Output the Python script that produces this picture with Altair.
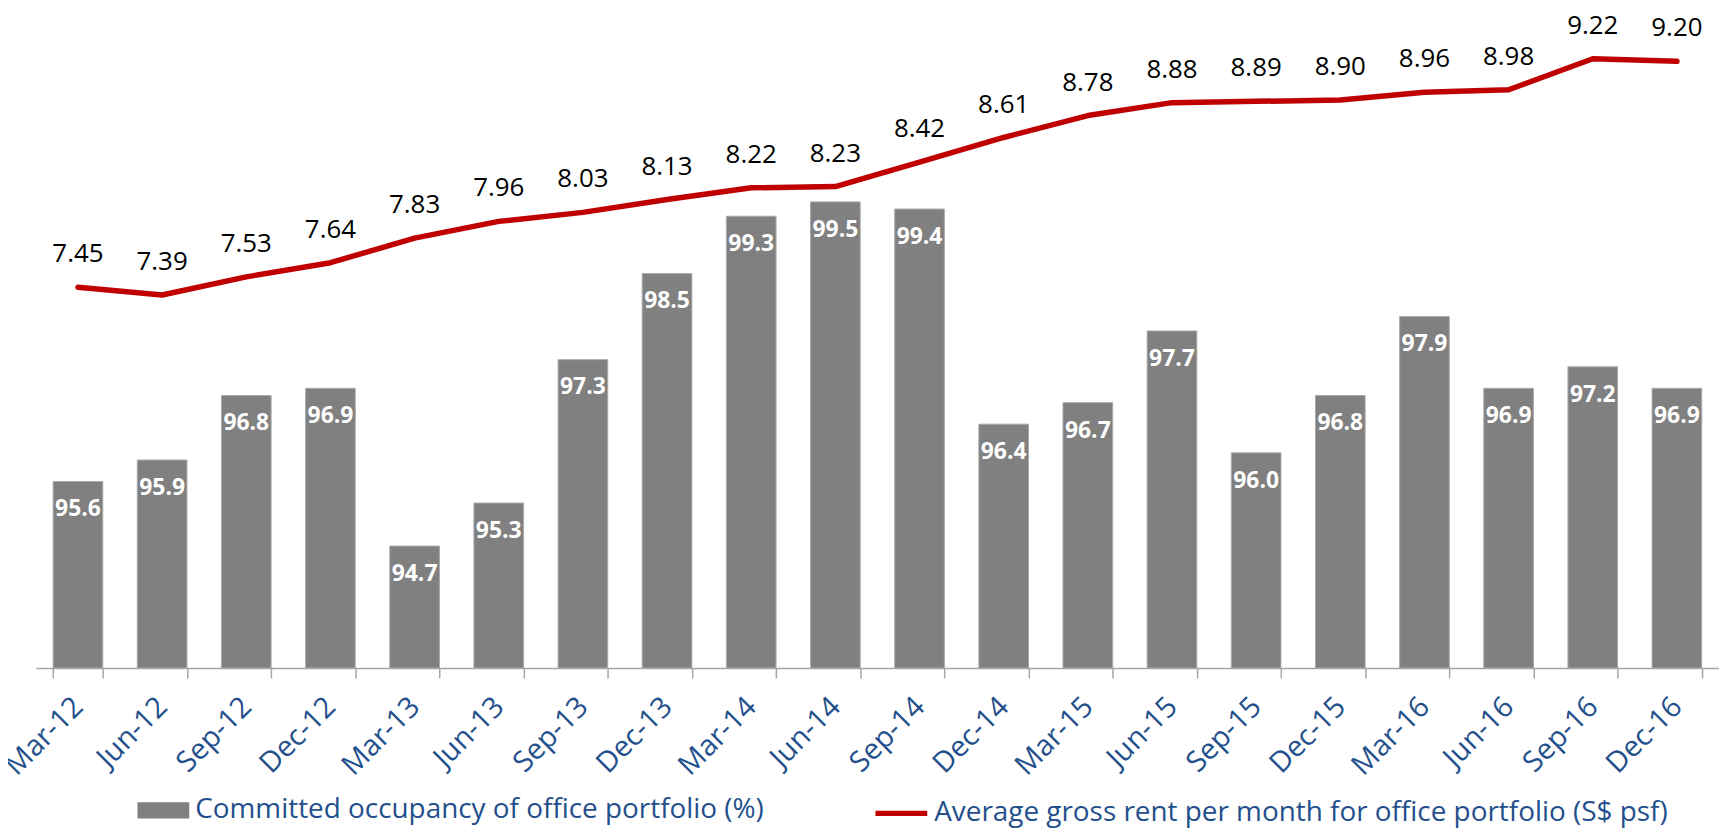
import altair as alt
import pandas as pd

categories = ["Mar-12", "Jun-12", "Sep-12", "Dec-12", "Mar-13", "Jun-13", "Sep-13", "Dec-13",
              "Mar-14", "Jun-14", "Sep-14", "Dec-14", "Mar-15", "Jun-15", "Sep-15", "Dec-15",
              "Mar-16", "Jun-16", "Sep-16", "Dec-16"]
occupancy = [95.6, 95.9, 96.8, 96.9, 94.7, 95.3, 97.3, 98.5, 99.3, 99.5, 99.4, 96.4,
             96.7, 97.7, 96.0, 96.8, 97.9, 96.9, 97.2, 96.9]
rent = [7.45, 7.39, 7.53, 7.64, 7.83, 7.96, 8.03, 8.13, 8.22, 8.23, 8.42, 8.61,
        8.78, 8.88, 8.89, 8.90, 8.96, 8.98, 9.22, 9.20]
bar_series = "Committed occupancy of office portfolio (%)"
line_series = "Average gross rent per month for office portfolio (S$ psf)"
occ_axis_min = 93

df = pd.DataFrame({
    "period": categories,
    "occ": occupancy,
    "rent": rent,
    "bar_s": [bar_series] * len(categories),
    "line_s": [line_series] * len(categories),
})
df["occ_lbl"] = [f"{v:.1f}" for v in occupancy]
df["rent_lbl"] = [f"{v:.2f}" for v in rent]

NAVY = "#23508c"
FONT = "Open Sans"

x_enc = alt.X(
    "period:N", sort=categories,
    scale=alt.Scale(paddingInner=0.41, paddingOuter=0.205),
    axis=alt.Axis(title=None, labelAngle=315, labelAlign="right", labelBaseline="middle",
                  labelFont=FONT, labelFontSize=29, labelColor=NAVY, labelPadding=24,
                  tickBand="extent", tickSize=10, tickColor="#a6a6a6", tickWidth=1.5,
                  domainColor="#a6a6a6", domainWidth=1.5, grid=False, labelLimit=300),
)

occ_scale = alt.Scale(domain=[occ_axis_min, 102], nice=False, zero=False)
rent_scale = alt.Scale(domain=[4.5, 9.5], nice=False, zero=False)

base = alt.Chart(df)

bars = base.mark_bar(stroke="#a8a8a8", strokeWidth=1).encode(
    x=x_enc,
    y=alt.Y("occ:Q", scale=occ_scale, axis=None),
    y2=alt.datum(occ_axis_min),
    fill=alt.Fill("bar_s:N", scale=alt.Scale(domain=[bar_series], range=["#808080"]),
                  legend=alt.Legend(title=None, orient="none", legendX=102, legendY=765,
                                    symbolType="M-1,-0.31H1V0.31H-1Z", symbolSize=2704,
                                    symbolStrokeWidth=0, labelFont=FONT, labelFontSize=28,
                                    labelColor=NAVY, labelLimit=1000, labelOffset=6, padding=0)),
)

bar_text = base.mark_text(color="white", font=FONT, fontWeight="bold", fontSize=23,
                          baseline="middle", dy=28).encode(
    x=alt.X("period:N", sort=categories),
    y=alt.Y("occ:Q", scale=occ_scale, axis=None),
    text="occ_lbl:N",
)

line = base.mark_line(strokeWidth=5.5, strokeCap="round", strokeJoin="round").encode(
    x=alt.X("period:N", sort=categories),
    y=alt.Y("rent:Q", scale=rent_scale, axis=None),
    stroke=alt.Stroke("line_s:N", scale=alt.Scale(domain=[line_series], range=["#c00000"]),
                      legend=alt.Legend(title=None, orient="none", legendX=840, legendY=765,
                                        symbolType="stroke", symbolSize=2704,
                                        symbolStrokeWidth=5.5, labelFont=FONT, labelFontSize=28,
                                        labelColor=NAVY, labelLimit=1000, labelOffset=4, padding=0)),
)

line_text = base.mark_text(color="black", font=FONT, fontSize=26, baseline="middle", dy=-33).encode(
    x=alt.X("period:N", sort=categories),
    y=alt.Y("rent:Q", scale=rent_scale, axis=None),
    text="rent_lbl:N",
)

chart = alt.layer(
    alt.layer(bars, bar_text),
    alt.layer(line, line_text),
).resolve_scale(y="independent", fill="independent", stroke="independent").properties(
    width=1690, height=648,
    autosize=alt.AutoSizeParams(type="none"),
    padding={"left": 28, "top": 13, "right": 0, "bottom": 160},
    background="white",
).configure_view(stroke=None)

chart.save("out.html", embed_options={"renderer": "svg", "actions": False})
